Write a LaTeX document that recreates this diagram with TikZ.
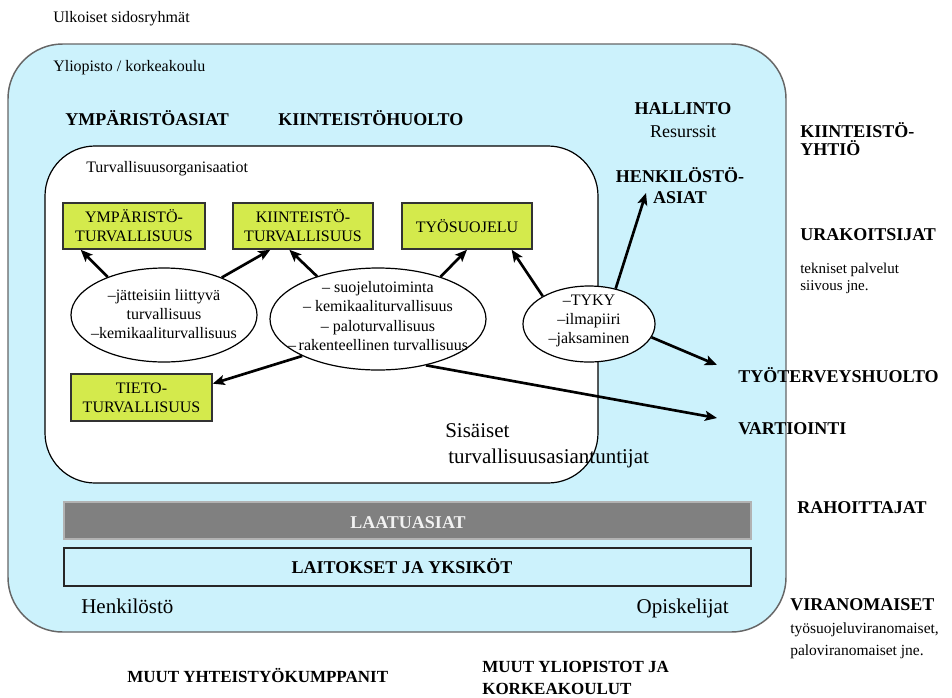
\documentclass[tikz,border=0pt]{standalone}
\usepackage{fontspec}
\setmainfont{Liberation Serif}
\usetikzlibrary{arrows.meta,shapes.geometric}
% font size given in picture units (1 unit = 0.75pt)
\newcommand\fpx[1]{\fontsize{\dimexpr #1pt*3/4\relax}{\dimexpr #1pt*9/10\relax}\selectfont}
\definecolor{skyfill}{RGB}{204,242,252}
\definecolor{limefill}{RGB}{212,234,76}
\begin{document}
\begin{tikzpicture}[x=0.75pt,y=-0.75pt,
  lbl/.style={inner sep=0pt, anchor=base west},
  lblc/.style={inner sep=0pt, anchor=base},
  lble/.style={inner sep=0pt, anchor=base east},
  head/.style={font=\fpx{18}\bfseries},
  plain/.style={font=\fpx{16}},
  gbox/.style={draw=black!80, line width=1.1pt, fill=limefill, align=center,
    font=\fpx{16}, minimum height=34.5pt, inner sep=0pt},
  oval/.style={ellipse, draw, line width=0.9pt, fill=white, inner sep=0pt},
  ovaltext/.style={font=\fpx{16}, align=center, inner sep=0pt},
  link/.style={-{Stealth[length=9pt,width=7.5pt,inset=2pt]}, line width=2pt},
]
\useasboundingbox (0,0) rectangle (952,697);
\fill[white] (0,0) rectangle (952,697);

% university area and the safety organisation inside it
\draw[draw=black!60, line width=1.1pt, fill=skyfill, rounded corners=41pt]
  (8,44) rectangle (786,632);
\draw[line width=0.9pt, fill=white, rounded corners=37.5pt]
  (45,146) rectangle (598,483);

% horizontal bars
\node[draw=black!30, line width=0.9pt, fill=black!50, minimum width=515.25pt,
  minimum height=27.75pt, inner sep=0pt] (laatu) at (407.5,520.5) {};
\node[lblc, font=\fpx{18}\bfseries, text=black!5] (laatut) at (408,528) {LAATUASIAT};
\node[draw=black!85, line width=0.9pt, fill=skyfill, minimum width=515.25pt,
  minimum height=28.5pt, inner sep=0pt] (laitos) at (407.5,567) {};
\node[lblc, font=\fpx{18}\bfseries] (laitost) at (402,573) {LAITOKSET JA YKSIKÖT};

% safety areas
\node[gbox, minimum width=106.5pt] (ymp) at (134,226) {YMPÄRISTÖ-\\TURVALLISUUS};
\node[gbox, minimum width=105pt] (kiint) at (303,226) {KIINTEISTÖ-\\TURVALLISUUS};
\node[gbox, minimum width=97.5pt] (tyo) at (467,226) {TYÖSUOJELU};
\node[gbox, minimum width=105.75pt, minimum height=35.25pt] (tieto) at (141.5,397.5) {TIETO-\\TURVALLISUUS};

% activity ovals
\node[oval, minimum width=139.5pt, minimum height=70.5pt,
  label={[ovaltext, yshift=0.8pt]center:{–jätteisiin liittyvä\\turvallisuus\\–kemikaaliturvallisuus}}]
  (e1) at (164,315) {};
\node[oval, minimum width=162pt, minimum height=76.5pt,
  label={[ovaltext, yshift=2.2pt]center:{– suojelutoiminta\\– kemikaaliturvallisuus\\– paloturvallisuus\\–\,rakenteellinen turvallisuus}}]
  (e2) at (378,319) {};
\node[oval, minimum width=99pt, minimum height=57pt,
  label={[ovaltext, yshift=2.5pt]center:{–TYKY\\–ilmapiiri\\–jaksaminen}}]
  (e3) at (589,324) {};

% texts
\node[lbl, plain] (ulk) at (53,22) {Ulkoiset sidosryhmät};
\node[lbl, plain] (ylio) at (53,71) {Yliopisto / korkeakoulu};
\node[lbl, head] (ympa) at (65,125) {YMPÄRISTÖASIAT};
\node[lbl, head] (kiho) at (278,125) {KIINTEISTÖHUOLTO};
\node[lbl, plain] (torg) at (86,172) {Turvallisuusorganisaatiot};
\node[lblc, head] (hall) at (683,114) {HALLINTO};
\node[lblc, font=\fpx{18}] (res) at (683,137) {Resurssit};
\node[lblc, head] (henk1) at (680,182) {HENKILÖSTÖ-};
\node[lblc, head] (henk2) at (680,203) {ASIAT};
\node[lbl, head] (kyh1) at (800,137) {KIINTEISTÖ-};
\node[lbl, head] (kyh2) at (800,155) {YHTIÖ};
\node[lbl, head] (urak) at (800,240) {URAKOITSIJAT};
\node[lbl, font=\fpx{15}] (tek1) at (800,273) {tekniset palvelut};
\node[lbl, font=\fpx{15}] (tek2) at (800,290) {siivous jne.};
\node[lbl, head] (tth) at (738,382) {TYÖTERVEYSHUOLTO};
\node[lbl, head] (vart) at (738,434) {VARTIOINTI};
\node[lbl, font=\fpx{21}] (sis1) at (445,437) {Sisäiset};
\node[lbl, font=\fpx{21}] (sis2) at (448,463) {turvallisuusasiantuntijat};
\node[lbl, head] (rah) at (797,513) {RAHOITTAJAT};
\node[lbl, font=\fpx{21}] (hlo) at (81,613) {Henkilöstö};
\node[lble, font=\fpx{21}] (opis) at (729,613) {Opiskelijat};
\node[lbl, head] (vir) at (790,610) {VIRANOMAISET};
\node[lbl, font=\fpx{15.5}] (vir1) at (790,633) {työsuojeluviranomaiset,};
\node[lbl, font=\fpx{15.5}] (vir2) at (790,655) {paloviranomaiset jne.};
\node[lbl, font=\fpx{17}\bfseries] (muut) at (127,682) {MUUT YHTEISTYÖKUMPPANIT};
\node[lbl, font=\fpx{17}\bfseries] (muy1) at (482,672) {MUUT YLIOPISTOT JA};
\node[lbl, font=\fpx{17}\bfseries] (muy2) at (482,694) {KORKEAKOULUT};

% arrow ends next to outside labels
\coordinate (henkTip) at (646,193);
\coordinate (tthTip) at (717,365);
\coordinate (vartTip) at (717,418);

% connectors
\draw[link] (e1.146) -- (ymp.204);
\draw[link] (e1.33) -- (kiint.216);
\draw[link] (e2.145) -- (kiint.240);
\draw[link] (e2.34) -- (tyo.south);
\draw[link] (e2.206) -- (tieto.11);
\draw[link] (e2.316) -- (vartTip);
\draw[link] (e3.149) -- (tyo.332);
\draw[link] (e3.53) -- (henkTip);
\draw[link] (e3.348) -- (tthTip);
\end{tikzpicture}
\end{document}
